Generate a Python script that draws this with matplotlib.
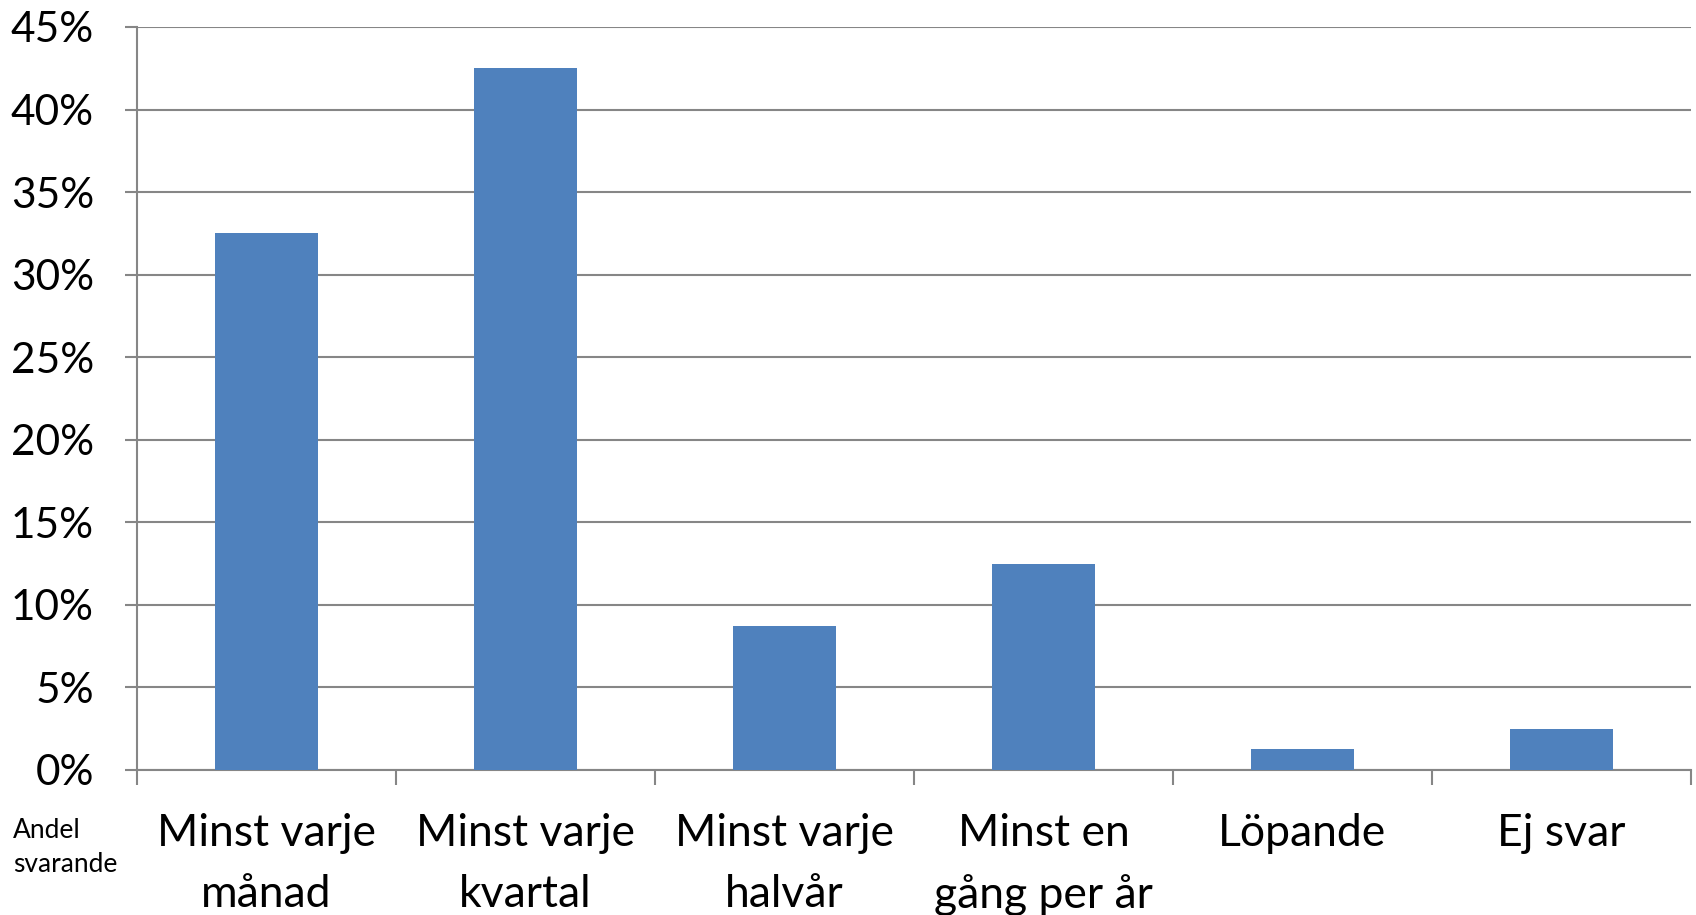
import matplotlib
matplotlib.use("Agg")
import matplotlib.pyplot as plt
import numpy as np
from matplotlib.ticker import MultipleLocator, FuncFormatter

plt.rcParams['font.family'] = ['Lato', 'DejaVu Sans']

# categories and share of respondents (%)
categories = ["Minst varje\nmånad", "Minst varje\nkvartal", "Minst varje\nhalvår",
              "Minst en\ngång per år", "Löpande", "Ej svar"]
shares = [32.5, 42.5, 8.75, 12.5, 1.25, 2.5]

BAR_COLOR = "#4F81BD"
GRID_COLOR = "#868686"

fig = plt.figure(figsize=(16.96, 9.15), dpi=100)
ax = fig.add_axes([0.0808, 0.1585, 0.9162, 0.812])

x = np.arange(len(categories))
ax.bar(x, shares, width=0.4, color=BAR_COLOR, zorder=3)

ax.set_xlim(-0.5, len(categories) - 0.5)
ax.set_ylim(0, 45)

# y axis: percent ticks with gridlines
ax.yaxis.set_major_locator(MultipleLocator(5))
ax.yaxis.set_major_formatter(FuncFormatter(lambda v, p: f"{v:.0f}%"))
ax.grid(axis="y", color=GRID_COLOR, linewidth=1.5, zorder=0)
ax.tick_params(axis="y", length=9, width=1.5, color=GRID_COLOR, pad=22,
               labelsize=30.5)

# x axis: labels at bar centres, ticks on category boundaries
ax.set_xticks(x)
ax.set_xticklabels(categories, fontsize=32, linespacing=1.6)
ax.tick_params(axis="x", which="major", length=0, pad=31)
ax.set_xticks(np.arange(len(categories) + 1) - 0.5, minor=True)
ax.tick_params(axis="x", which="minor", length=11, width=1.5, color=GRID_COLOR)

for side in ["top", "right"]:
    ax.spines[side].set_visible(False)
for side in ["left", "bottom"]:
    ax.spines[side].set_color(GRID_COLOR)
    ax.spines[side].set_linewidth(1.5)

fig.text(0.0077, 0.106, "Andel\nsvarande", fontsize=19, ha="left", va="top",
         linespacing=1.45)

fig.savefig("out.png", dpi=100)
